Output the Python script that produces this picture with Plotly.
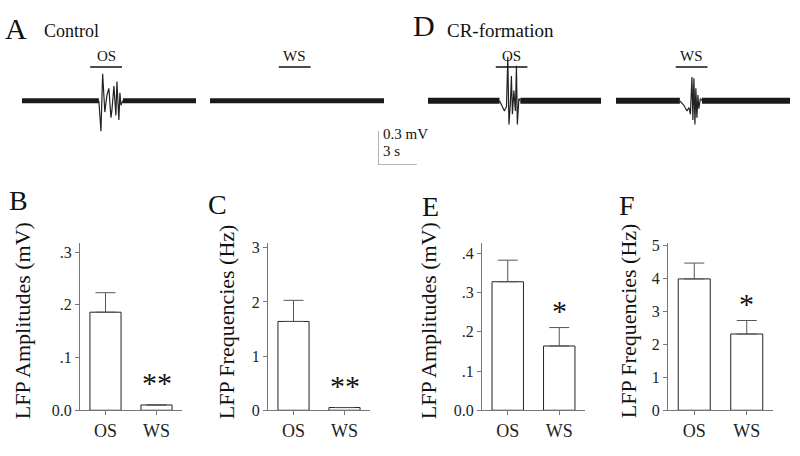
import plotly.graph_objects as go

W, H = 800, 456
SERIF = "Liberation Serif, Times New Roman, serif"


def px(x):
    return x / W


def py(y):
    return 1 - y / H


# ------------------------------------------------------------------ data
categories = ["OS", "WS"]

amp_control = [0.186, 0.010]          # B  LFP amplitudes (mV)
amp_control_err = [0.037, 0.0]
freq_control = [1.64, 0.05]           # C  LFP frequencies (Hz)
freq_control_err = [0.39, 0.0]
amp_cr = [0.328, 0.164]               # E  LFP amplitudes (mV)
amp_cr_err = [0.055, 0.047]
freq_cr = [3.98, 2.31]                # F  LFP frequencies (Hz)
freq_cr_err = [0.48, 0.41]

sig_control = ["**", "**"]            # B, C
sig_cr = ["*", "*"]                   # E, F

# LFP example traces (time in s, voltage in mV)
trace_duration = 13.4
stim_labels = ["OS", "WS", "OS", "WS"]
stim_start = [5.25, 5.3, 5.25, 4.6]
stim_dur = 2.45

ctrl_os_t = [5.92, 6.08, 6.21, 6.38, 6.54, 6.69, 6.85, 6.92, 7.08, 7.23, 7.31, 7.46, 7.54, 7.62, 7.77]
ctrl_os_v = [0.0, -0.27, 0.24, -0.10, 0.05, 0.11, -0.15, -0.09, 0.13, -0.13, 0.17, -0.17, 0.07, -0.04, 0.0]

cr_os_t = [5.54, 5.77, 5.92, 6.08, 6.18, 6.27, 6.38, 6.46, 6.54, 6.65, 6.77, 6.85, 6.92, 7.04, 7.15]
cr_os_v = [0.0, -0.05, -0.09, -0.05, 0.39, -0.21, -0.02, 0.22, -0.12, 0.09, -0.09, 0.31, -0.21, 0.02, 0.0]

cr_ws_t = [4.92, 5.23, 5.46, 5.62, 5.73, 5.85, 5.92, 6.00, 6.08, 6.15, 6.23, 6.31, 6.38, 6.50, 6.62]
cr_ws_v = [0.0, -0.04, -0.09, -0.06, -0.12, 0.21, -0.17, 0.20, -0.21, 0.11, -0.15, 0.05, -0.07, 0.02, 0.0]

scale_time = 3.0     # s
scale_volt = 0.3     # mV

# ------------------------------------------------------------------ figure
fig = go.Figure()
annotations = []

# shared voltage axis for the four traces
PX_PER_MV = 35 / scale_volt
BASE_PY = 98
Y_TOP_PY, Y_BOT_PY = 40, 140
trace_yrange = [-(Y_BOT_PY - BASE_PY) / PX_PER_MV, (BASE_PY - Y_TOP_PY) / PX_PER_MV]

trace_x_px = [(22, 196), (210, 384), (428, 601), (616, 790)]
bursts = [(ctrl_os_t, ctrl_os_v), None, (cr_os_t, cr_os_v), (cr_ws_t, cr_ws_v)]
band_w = [5, 5, 6, 6]
xa_names = ["x", "x2", "x3", "x4"]

layout_axes = {}
hidden = dict(visible=False, showgrid=False, zeroline=False, fixedrange=True)
layout_axes["yaxis"] = dict(domain=[py(Y_BOT_PY), py(Y_TOP_PY)], range=trace_yrange, anchor="x", **hidden)

for i, (x0, x1) in enumerate(trace_x_px):
    key = "xaxis" if i == 0 else f"xaxis{i + 1}"
    layout_axes[key] = dict(domain=[px(x0), px(x1)], range=[0, trace_duration], anchor="y", **hidden)
    xa = xa_names[i]
    b = bursts[i]
    if b is None:
        bx = [0, trace_duration]
        by = [0, 0]
    else:
        bx = [0, b[0][0], None, b[0][-1], trace_duration]
        by = [0, 0, None, 0, 0]
    fig.add_trace(go.Scatter(x=bx, y=by, mode="lines", xaxis=xa, yaxis="y",
                             line=dict(color="#1a1a1a", width=band_w[i]), hoverinfo="skip"))
    if b is not None:
        fig.add_trace(go.Scatter(x=b[0], y=b[1], mode="lines", xaxis=xa, yaxis="y",
                                 line=dict(color="#222", width=1.2), hoverinfo="skip"))
    # stimulus marker
    s0 = stim_start[i]
    fig.add_trace(go.Scatter(x=[s0, s0 + stim_dur], y=[0.30, 0.30], mode="lines", xaxis=xa, yaxis="y",
                             line=dict(color="#111", width=1.5), hoverinfo="skip"))
    annotations.append(dict(x=s0 + stim_dur / 2, y=0.305, xref=xa, yref="y", text=stim_labels[i],
                            showarrow=False, yanchor="bottom", font=dict(family=SERIF, size=15, color="#111")))

# scale bar axis
layout_axes["xaxis5"] = dict(domain=[px(378), px(378 + 39)], range=[0, scale_time], anchor="y2", **hidden)
layout_axes["yaxis2"] = dict(domain=[py(164), py(164 - 35)], range=[0, scale_volt], anchor="x5", **hidden)
fig.add_trace(go.Scatter(x=[0, 0, scale_time], y=[scale_volt, 0, 0], mode="lines", xaxis="x5", yaxis="y2",
                         line=dict(color="#666", width=1), hoverinfo="skip"))
annotations.append(dict(x=0.25, y=0.27, xref="x5", yref="y2", text=f"{scale_volt} mV", showarrow=False,
                        xanchor="left", yanchor="middle", font=dict(family=SERIF, size=15, color="#111")))
annotations.append(dict(x=0.25, y=0.125, xref="x5", yref="y2", text=f"{scale_time:g} s", showarrow=False,
                        xanchor="left", yanchor="middle", font=dict(family=SERIF, size=15, color="#111")))

# bar panels
panels = [
    dict(vals=amp_control, err=amp_control_err, x=(80, 182), top=0.3174,
         tv=[0, 0.1, 0.2, 0.3], tt=["0.0", ".1", ".2", ".3"], title="LFP Amplitudes (mV)", tx=22,
         sig=sig_control[0], sigy=0.053),
    dict(vals=freq_control, err=freq_control_err, x=(268, 370), top=3.09,
         tv=[0, 1, 2, 3], tt=["0", "1", "2", "3"], title="LFP Frequencies (Hz)", tx=226,
         sig=sig_control[1], sigy=0.46),
    dict(vals=amp_cr, err=amp_cr_err, x=(482, 585), top=0.427,
         tv=[0, 0.1, 0.2, 0.3, 0.4], tt=["0.0", ".1", ".2", ".3", ".4"], title="LFP Amplitudes (mV)", tx=428,
         sig=sig_cr[0], sigy=0.255),
    dict(vals=freq_cr, err=freq_cr_err, x=(668, 773), top=5.07,
         tv=[0, 1, 2, 3, 4, 5], tt=["0", "1", "2", "3", "4", "5"], title="LFP Frequencies (Hz)", tx=628,
         sig=sig_cr[1], sigy=3.22),
]

axis_style = dict(showline=True, linecolor="#777", linewidth=1, ticks="outside", ticklen=4,
                  tickcolor="#777", showgrid=False, zeroline=False, fixedrange=True,
                  tickfont=dict(family=SERIF, size=16, color="#222"))

for k, p in enumerate(panels):
    xi, yi = 6 + k, 3 + k
    xa, ya = f"x{xi}", f"y{yi}"
    layout_axes[f"xaxis{xi}"] = dict(domain=[px(p["x"][0]), px(p["x"][1])], type="category",
                                     range=[-0.5, 1.5], anchor=ya, **axis_style)
    layout_axes[f"xaxis{xi}"]["tickfont"] = dict(family=SERIF, size=18, color="#222")
    layout_axes[f"yaxis{yi}"] = dict(domain=[py(418), py(245)], range=[0, p["top"]], anchor=xa,
                                     tickvals=p["tv"], ticktext=p["tt"], **axis_style)
    fig.add_trace(go.Bar(x=categories, y=p["vals"], xaxis=xa, yaxis=ya, width=0.61,
                         marker=dict(color="white", line=dict(color="#222", width=1)),
                         error_y=dict(type="data", array=p["err"], arrayminus=[0, 0], symmetric=False,
                                      color="#555", thickness=1, width=10),
                         hoverinfo="skip"))
    annotations.append(dict(x="WS", y=p["sigy"], xref=xa, yref=ya, text=p["sig"], showarrow=False,
                            yanchor="middle", font=dict(family=SERIF, size=30, color="#111")))
    annotations.append(dict(x=px(p["tx"]), y=py(326), xref="paper", yref="paper", text=p["title"],
                            textangle=-90, showarrow=False, xanchor="center", yanchor="middle",
                            font=dict(family=SERIF, size=22, color="#111")))

# panel letters and headings
letters = [("A", 16, 23), ("D", 424, 20), ("B", 18, 201), ("C", 217, 205), ("E", 430, 207), ("F", 627, 206)]
for t, lx, ly in letters:
    annotations.append(dict(x=px(lx), y=py(ly), xref="paper", yref="paper", text=t, showarrow=False,
                            xanchor="center", yanchor="middle",
                            font=dict(family=SERIF, size=30 if t in "AD" else 28, color="#111")))
annotations.append(dict(x=px(42), y=py(26), xref="paper", yref="paper", text="Control", showarrow=False,
                        xanchor="left", yanchor="middle", font=dict(family=SERIF, size=18, color="#111")))
annotations.append(dict(x=px(445), y=py(25), xref="paper", yref="paper", text="CR-formation", showarrow=False,
                        xanchor="left", yanchor="middle", font=dict(family=SERIF, size=19, color="#111")))

fig.update_layout(width=W, height=H, margin=dict(l=0, r=0, t=0, b=0), showlegend=False,
                  paper_bgcolor="white", plot_bgcolor="white", annotations=annotations,
                  **layout_axes)

fig.write_html("out.html", config={"displayModeBar": False, "staticPlot": True},
               post_script="document.body.style.margin='0';document.body.style.overflow='hidden';")
